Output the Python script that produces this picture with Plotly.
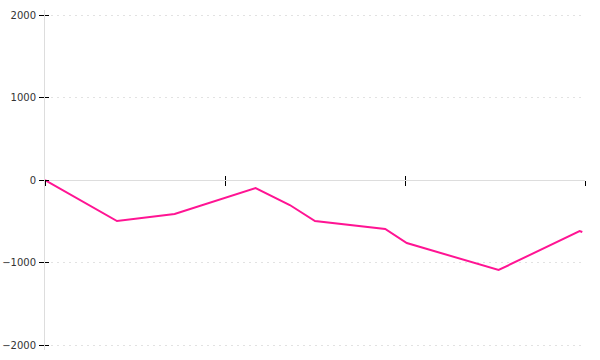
import plotly.graph_objects as go

x_vals = [0, 40, 72, 117, 136, 143, 150, 189, 201, 252, 297, 298.5]
y_vals = [0, -497, -412, -97, -303, -400, -497, -594, -764, -1091, -618, -630]
x_ticks = [0, 100, 200, 300]
y_ticks = [-2000, -1000, 0, 1000, 2000]

fig = go.Figure()
fig.add_trace(go.Scatter(x=x_vals, y=y_vals, mode="lines",
                         line=dict(color="#ff1493", width=2), showlegend=False))
# overlay axes to draw the inner halves of the ticks
fig.add_trace(go.Scatter(x=[x_vals[0]], y=[y_vals[0]], xaxis="x2", yaxis="y2",
                         mode="markers", marker=dict(opacity=0),
                         showlegend=False, hoverinfo="skip"))

yr = [-2060.6, 2060.6]

fig.update_layout(
    width=600, height=360,
    margin=dict(l=45, r=15, t=10, b=10, autoexpand=False),
    paper_bgcolor="white", plot_bgcolor="white",
    font=dict(family="DejaVu Sans", size=10, color="#333"),
    xaxis=dict(range=[0, 300], tickvals=x_ticks, showticklabels=False,
               ticks="outside", ticklen=5, tickcolor="black", tickwidth=1,
               showgrid=False, zeroline=False, showline=True, linecolor="#dddddd",
               linewidth=1, anchor="free", position=0.5, automargin=False),
    xaxis2=dict(range=[0, 300], tickvals=x_ticks, showticklabels=False,
                ticks="inside", ticklen=4, tickcolor="black", tickwidth=1,
                showgrid=False, zeroline=False, showline=False, automargin=False,
                overlaying="x", anchor="free", position=0.5, side="bottom"),
    yaxis=dict(range=yr, tickvals=y_ticks, ticks="outside", ticklen=5,
               tickcolor="black", tickwidth=1, showgrid=True, gridcolor="#e2e2e2",
               griddash="2px,4px", zeroline=False, showline=True, linecolor="#dddddd",
               linewidth=1, ticklabelstandoff=1, automargin=False),
    yaxis2=dict(range=yr, tickvals=y_ticks, ticks="inside", ticklen=4,
                tickcolor="black", tickwidth=1, showgrid=False, zeroline=False,
                showline=False, showticklabels=False, automargin=False,
                overlaying="y", anchor="x", side="left"),
)

fig.write_html("out.html")
